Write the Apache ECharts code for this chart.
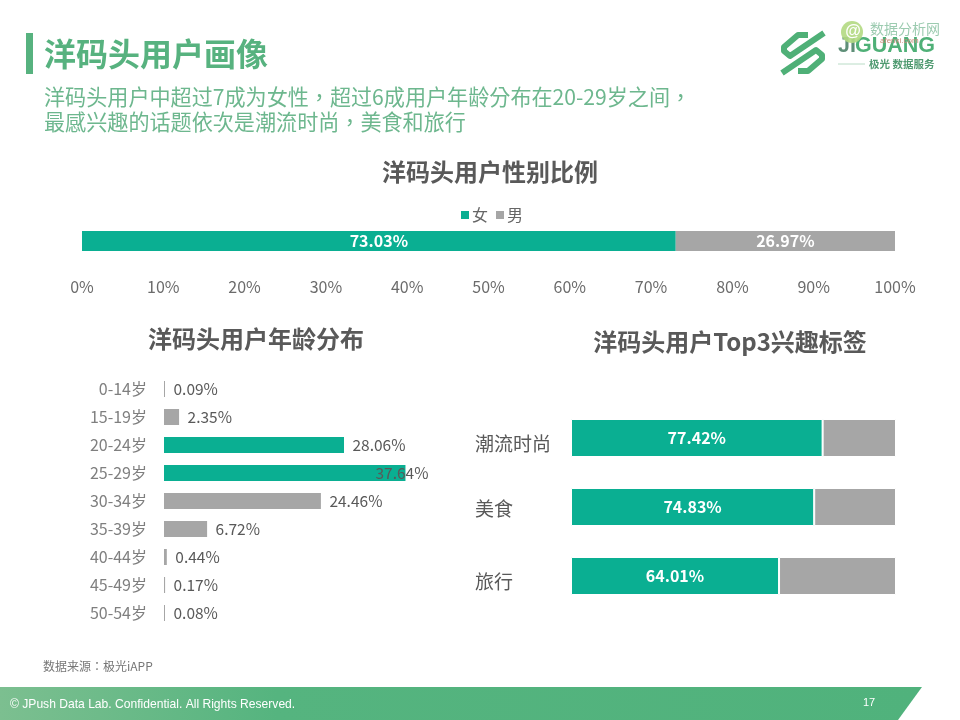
<!DOCTYPE html>
<html><head><meta charset="utf-8">
<style>html,body{margin:0;padding:0;background:#fff}#c{width:960px;height:720px}</style>
<script src="https://cdn.jsdelivr.net/npm/echarts@6/dist/echarts.min.js"></script>
</head><body><div id="c"></div>
<script>
const genderNames = ['女','男'];
const genderValues = [73.03,26.97];
const ageCategories = ['0-14岁','15-19岁','20-24岁','25-29岁','30-34岁','35-39岁','40-44岁','45-49岁','50-54岁'];
const ageValues = [0.09,2.35,28.06,37.64,24.46,6.72,0.44,0.17,0.08];
const ageHighlighted = ['20-24岁','25-29岁'];
const interestCategories = ['潮流时尚','美食','旅行'];
const interestValues = [77.42,74.83,64.01];
const interestRest = [22.58,25.17,35.99];

const TEAL='#0aaf92', GREY='#a6a6a6', FONT='"Noto Sans CJK SC","Open Sans",sans-serif', FONT_TC='"Noto Sans CJK TC","Noto Sans CJK SC",sans-serif';
const GREEN='#57b27f', LOGO='#4fb077';
const pct=p=>p.value.toFixed(2)+'%';
const chart=echarts.init(document.getElementById('c'),null,{renderer:'canvas'});
const txt=(x,y,text,size,fill,extra={})=>({type:'text',x,y,style:Object.assign({text,fontSize:size,fill,fontFamily:FONT,verticalAlign:'middle'},extra)});
const chartTitle=(text,x,top)=>({text,left:x,top,padding:0,textAlign:'center',textStyle:{fontFamily:FONT,fontSize:24,fontWeight:'bold',color:'#595959'}});
const logoStroke=points=>({type:'polyline',shape:{points},style:{stroke:LOGO,lineWidth:6,fill:null,lineJoin:'round',lineCap:'butt'}});
const interestRich={fontFamily:FONT,fontSize:19,color:'#595959'};
chart.setOption({
 animation:false,
 backgroundColor:'#fff',
 title:[chartTitle('洋码头用户性别比例',490,160),chartTitle('洋码头用户年龄分布',256,327),chartTitle('洋码头用户Top3兴趣标签',730,330)],
 legend:{top:202,left:456,itemWidth:8,itemHeight:8,itemGap:8,icon:'rect',data:genderNames,textStyle:{fontFamily:FONT,fontSize:16,color:'#666',padding:[0,0,0,-2]}},
 grid:[
  {left:82,top:231,width:813,height:20},
  {left:164,top:375,width:320.75,height:252},
  {left:571,top:403.5,width:325,height:207}
 ],
 xAxis:[
  {gridIndex:0,type:'value',min:0,max:100,interval:10,axisLine:{show:false},axisTick:{show:false},splitLine:{show:false},
   axisLabel:{formatter:'{value}%',margin:28,fontFamily:FONT,fontSize:16,color:'#6b6b6b'}},
  {gridIndex:1,type:'value',min:0,max:50,show:false,splitLine:{show:false}},
  {gridIndex:2,type:'value',min:0,max:100,show:false,splitLine:{show:false}}
 ],
 yAxis:[
  {gridIndex:0,type:'category',data:['性别'],show:false},
  {gridIndex:1,type:'category',inverse:true,data:ageCategories,axisLine:{show:false},axisTick:{show:false},
   axisLabel:{margin:17,fontFamily:FONT,fontSize:16,color:'#7f7f7f',lineHeight:18,padding:[0,0,2,0]}},
  {gridIndex:2,type:'category',inverse:true,axisLine:{show:false},axisTick:{show:false},data:interestCategories,
   axisLabel:{margin:96,align:'left',fontFamily:FONT,fontSize:19,color:'#595959',
    formatter:v=>v==='美食'?`{b|${v}}`:`{a|${v}}`,
    rich:{a:Object.assign({padding:[12,0,0,0]},interestRich),b:Object.assign({padding:[4,0,0,0]},interestRich)}}}
 ],
 series:[
  {name:genderNames[0],type:'bar',stack:'g',xAxisIndex:0,yAxisIndex:0,barWidth:20,data:[genderValues[0]],itemStyle:{color:TEAL},
   label:{show:true,position:'inside',formatter:pct,color:'#fff',fontWeight:'bold',fontSize:16,fontFamily:FONT}},
  {name:genderNames[1],type:'bar',stack:'g',xAxisIndex:0,yAxisIndex:0,barWidth:20,data:[genderValues[1]],itemStyle:{color:GREY},
   label:{show:true,position:'inside',formatter:pct,color:'#fff',fontWeight:'bold',fontSize:16,fontFamily:FONT}},
  {type:'bar',xAxisIndex:1,yAxisIndex:1,barWidth:16,barMinHeight:1,
   data:ageValues.map((v,i)=>({value:v,itemStyle:{color:ageHighlighted.includes(ageCategories[i])?TEAL:GREY},
     label:v===Math.max(...ageValues)?{distance:-30,color:'#595959'}:{}})),
   label:{show:true,position:'right',distance:8.5,formatter:pct,color:'#595959',fontSize:15.5,fontFamily:FONT}},
  {type:'bar',stack:'i',xAxisIndex:2,yAxisIndex:2,barWidth:38,data:interestValues,
   itemStyle:{color:TEAL,borderColor:'#fff',borderWidth:1},
   label:{show:true,position:'inside',formatter:pct,color:'#fff',fontWeight:'bold',fontSize:16,fontFamily:FONT}},
  {type:'bar',stack:'i',xAxisIndex:2,yAxisIndex:2,barWidth:38,data:interestRest,
   itemStyle:{color:GREY,borderColor:'#fff',borderWidth:1}}
 ],
 graphic:[
  {type:'rect',shape:{x:26,y:33,width:7,height:41},style:{fill:GREEN}},
  txt(44,54,'洋码头用户画像',32,GREEN,{fontWeight:'bold'}),
  txt(44,97,'洋码头用户中超过7成为女性，超过6成用户年龄分布在20-29岁之间，',21.1,'#6db78e',{fontFamily:FONT_TC}),
  txt(44,122,'最感兴趣的话题依次是潮流时尚，美食和旅行',21.1,'#6db78e',{fontFamily:FONT_TC}),
  txt(43,666,'数据来源：极光iAPP',12,'#777',{fontFamily:FONT_TC}),
  {type:'polygon',shape:{points:[[0,687],[922,687],[898,720],[0,720]]},
   style:{fill:new echarts.graphic.LinearGradient(0,0,1,0,[{offset:0,color:'#7cbf90'},{offset:0.3,color:'#55b47f'},{offset:1,color:'#50b27c'}])}},
  {type:'text',x:10,y:705,style:{text:'© JPush Data Lab. Confidential. All Rights Reserved.',fontFamily:'"Liberation Sans",Arial,sans-serif',fontSize:12.1,fill:'#fff',verticalAlign:'middle'}},
  {type:'text',x:863,y:703,style:{text:'17',fontFamily:'"Liberation Sans",Arial,sans-serif',fontSize:11,fill:'#fff',verticalAlign:'middle'}},
  logoStroke([[808,35],[798,35],[784,47],[784,51],[790,56],[824,33]]),
  logoStroke([[798,71],[808,71],[822,59],[822,55],[816,50],[782,73]]),
  {type:'text',x:838,y:46,style:{text:'JI',fontFamily:'"Liberation Sans",sans-serif',fontWeight:'bold',fontSize:21.5,fill:'#5f8f78',verticalAlign:'middle'}},
  {type:'text',x:855,y:46,style:{text:'GUANG',fontFamily:'"Liberation Sans",sans-serif',fontWeight:'bold',fontSize:21.5,fill:LOGO,verticalAlign:'middle'}},
  {type:'line',shape:{x1:838,y1:64,x2:865,y2:64},style:{stroke:'#b9dcc6',lineWidth:1}},
  txt(869,64,'极光 数据服务',10.5,'#4f9a70',{fontWeight:'bold'}),
  {type:'circle',shape:{cx:852,cy:32,r:11},style:{fill:'rgba(178,217,130,0.9)'}},
  {type:'text',x:845,y:32,style:{text:'@',fontFamily:'"Liberation Sans",sans-serif',fontWeight:'bold',fontStyle:'italic',fontSize:16,fill:'#fff',verticalAlign:'middle'}},
  txt(870,29,'数据分析网',14,'#9ccbb0'),
  {type:'text',x:880,y:41,style:{text:'afenxi.com',fontFamily:'"Liberation Sans",sans-serif',fontSize:8,fill:'#c98a7a',verticalAlign:'middle'}}
 ]
});
</script></body></html>
